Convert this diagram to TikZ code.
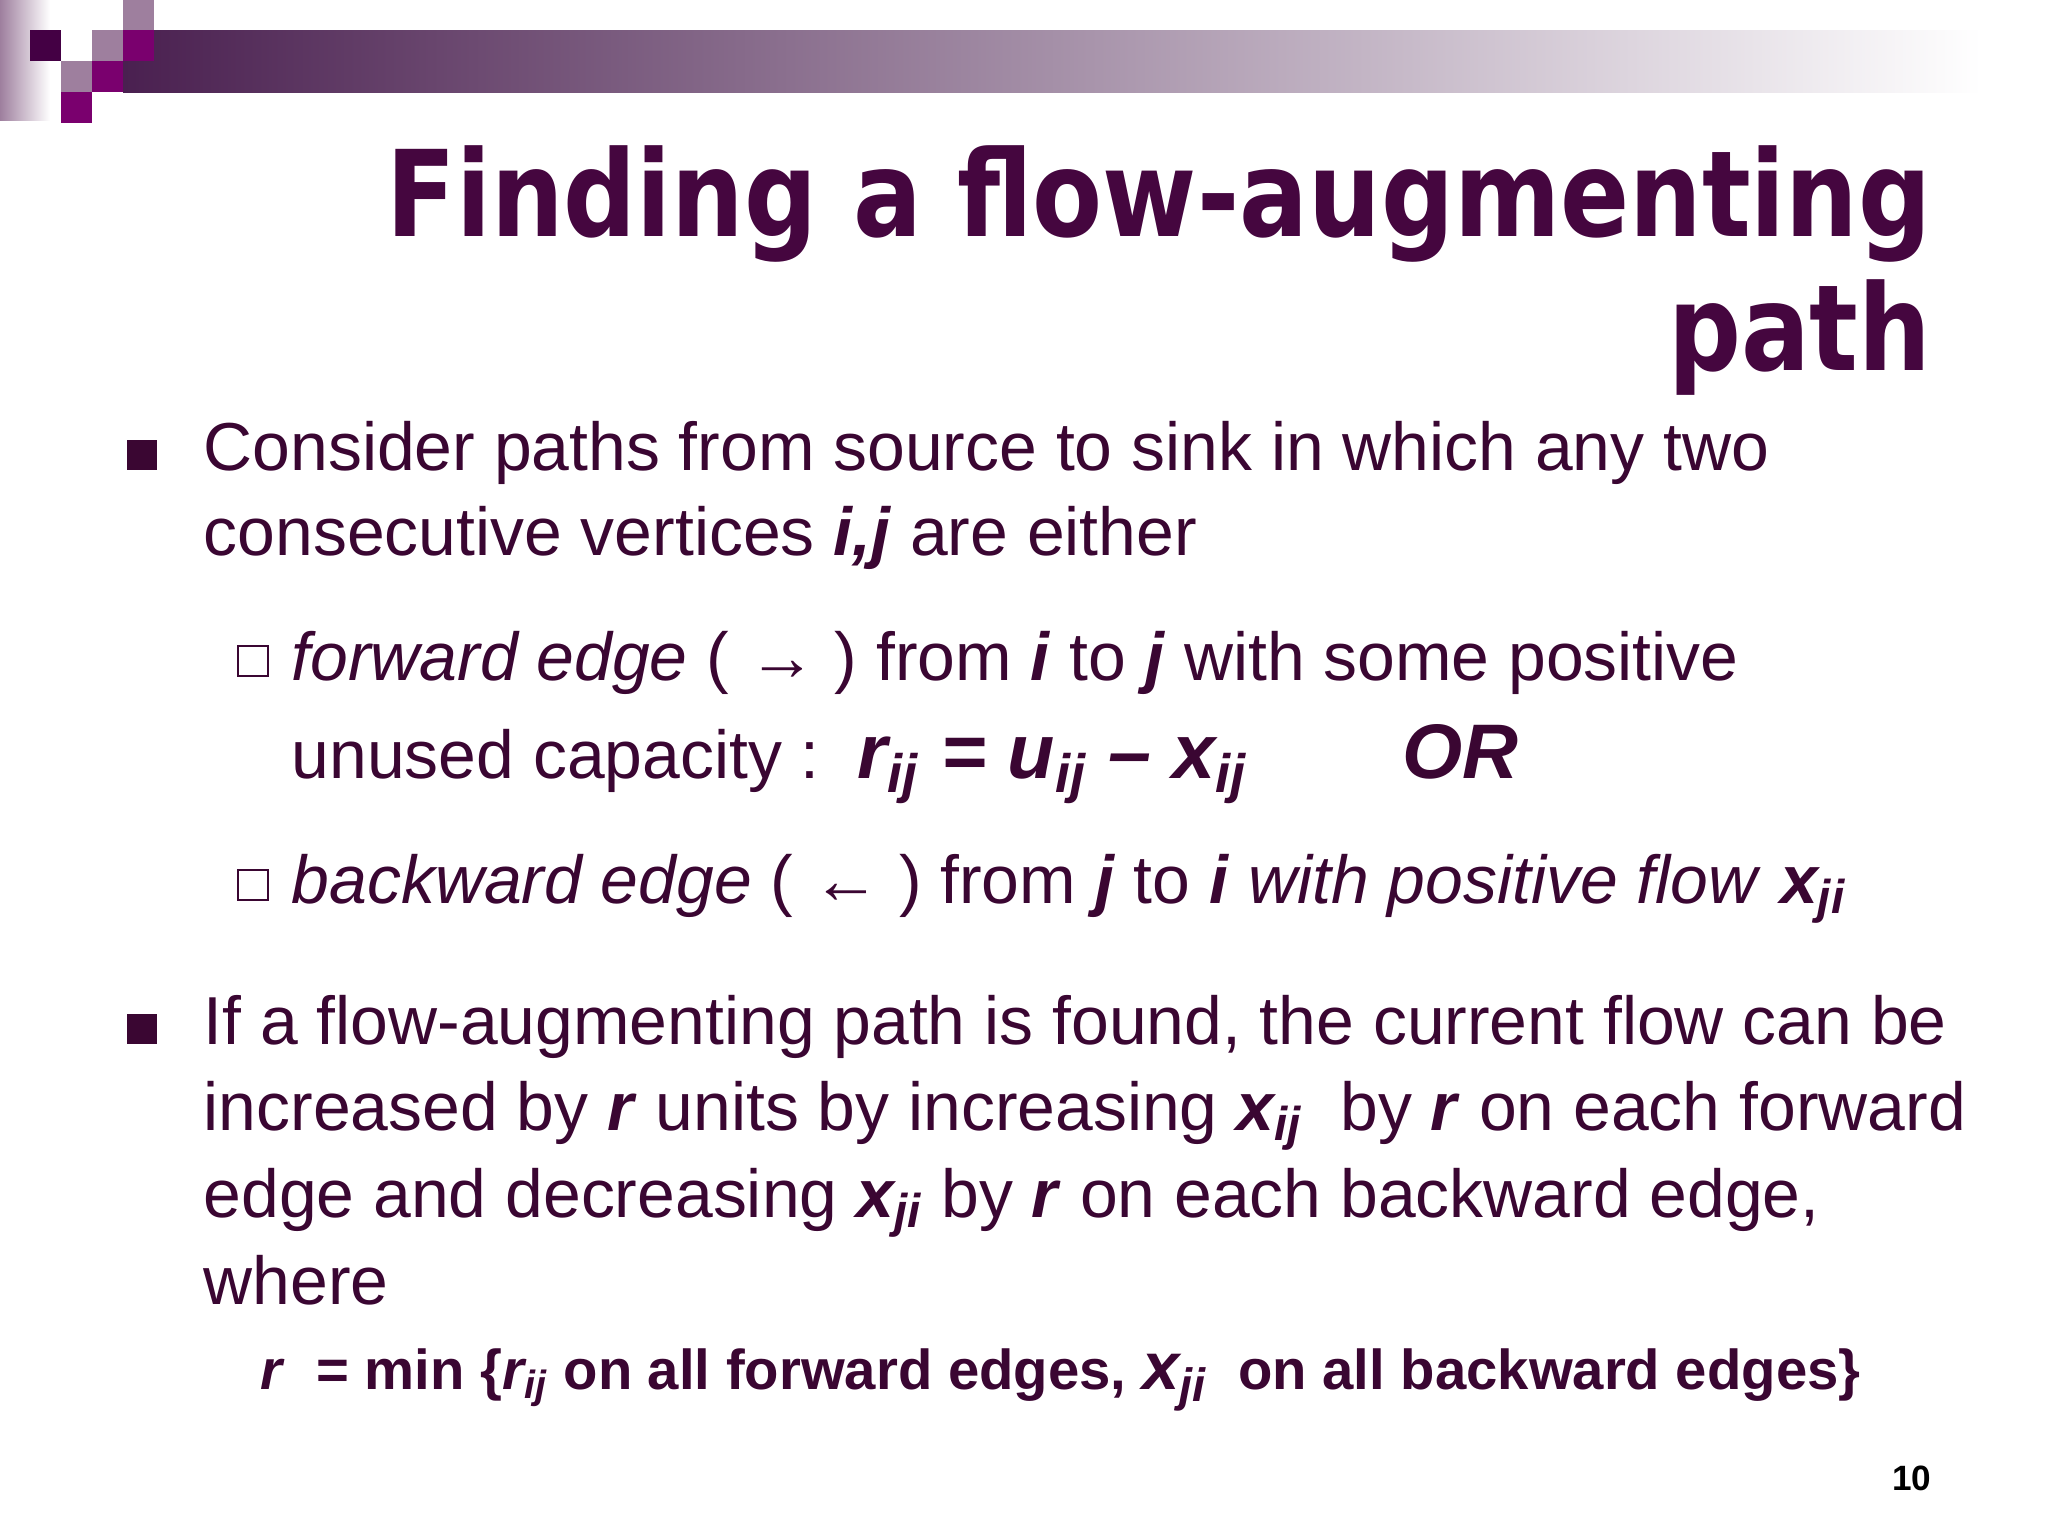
\documentclass[tikz,border=0pt]{standalone}
\usepackage{fontspec}
\setmainfont{Liberation Sans}
\newfontfamily\titlefont{DejaVu Sans}
\usetikzlibrary{positioning}
\definecolor{ttl}{HTML}{45063F}
\definecolor{txt}{HTML}{3A0632}
\definecolor{dk}{HTML}{440044}
\definecolor{gr}{HTML}{9E7F9E}
\definecolor{mg}{HTML}{7A006E}
\definecolor{bar}{HTML}{4A2050}
\tikzset{
 body/.style={anchor=base west,inner sep=0,text=txt,font=\fontsize{19.3}{23}\selectfont},
 ttlnode/.style={anchor=base east,inner sep=0,text=ttl,font=\titlefont\bfseries\fontsize{34}{40}\selectfont},
 bul/.style={fill=txt,inner sep=0,minimum size=8.5pt},
 hbul/.style={draw=txt,line width=0.7pt,inner sep=0,minimum size=8.5pt}
}
\begin{document}
\begin{tikzpicture}[x=0.01cm,y=-0.01cm]
\useasboundingbox (0,0) rectangle (2048,1536);
\fill[white] (0,0) rectangle (2048,1536);
% left faded strip
\shade[left color=gr, right color=white] (0,0) rectangle (50,120);
% top bar
\shade[left color=bar, right color=white] (123,30) rectangle (1982,92);
% squares
\fill[dk] (30,30) rectangle (61,61);
\fill[gr] (61,61) rectangle (92,92);
\fill[mg] (92,61) rectangle (123,92);
\fill[gr] (92,30) rectangle (123,61);
\fill[mg] (123,30) rectangle (154,61);
\fill[gr] (123,0) rectangle (154,30);
\fill[mg] (61,92) rectangle (92,123);
% title
\node[ttlnode] (t1) at (1932,236) {\scalebox{0.853}[1]{Finding a flow-augmenting}};
\node[ttlnode] (t2) at (1932,370) {\scalebox{0.853}[1]{path}};
% bullets
\node[bul] (b1) at (142,455) {};
\node[body] (l1) at (203,470) {Consider paths from source to sink in which any two};
\node[body] (l2) at (203,555) {consecutive vertices \textbf{\textit{i,j}} are either};
\node[hbul] (s1) at (253,661) {};
\node[body] (l3) at (291,680) {\textit{forward edge} ( → ) from \textbf{\textit{i}} to \textbf{\textit{j}} with some positive};
\node[body] (l4) at (291,778) {unused capacity :\ \ {\bfseries\itshape\fontsize{22}{26}\selectfont r\textsubscript{ij} = u\textsubscript{ij} -- x\textsubscript{ij}\hspace{2em}OR}};
\node[hbul] (s2) at (253,885) {};
\node[body] (l5) at (291,903) {\textit{backward edge} ( ← ) from \textbf{\textit{j}} to \textbf{\textit{i}} \textit{with positive flow} \textbf{\textit{x\textsubscript{ji}}}};
\node[bul] (b2) at (142,1029) {};
\node[body] (l6) at (203,1044) {If a flow-augmenting path is found, the current flow can be};
\node[body] (l7) at (203,1130) {increased by \textbf{\textit{r}} units by increasing \textbf{\textit{x\textsubscript{ij}}}\ \ by \textbf{\textit{r}} on each forward};
\node[body] (l8) at (203,1217) {edge and decreasing \textbf{\textit{x\textsubscript{ji}}} by \textbf{\textit{r}} on each backward edge,};
\node[body] (l9) at (203,1304) {where};
\node[body,font=\bfseries\fontsize{16}{20}\selectfont] (l10) at (260,1389) {\textit{r}\ \ = min \{\textit{r\textsubscript{ij}} on all forward edges, {\fontsize{19}{20}\selectfont\textit{x\textsubscript{ji}}}\ \ on all backward edges\}};
\node[anchor=base east,inner sep=0,font=\bfseries\fontsize{10}{12}\selectfont] (pn) at (1932,1490) {10};
\end{tikzpicture}
\end{document}
